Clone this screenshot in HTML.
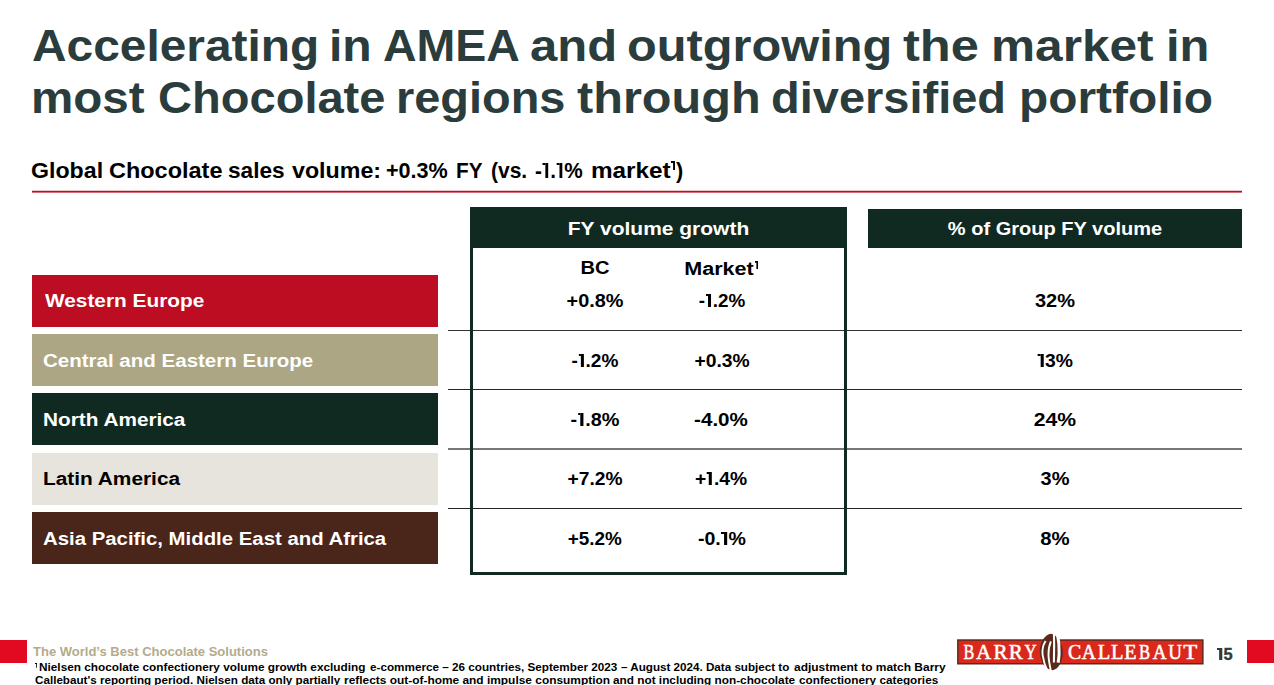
<!DOCTYPE html>
<html><head><meta charset="utf-8">
<style>
*{margin:0;padding:0;box-sizing:border-box}
html,body{width:1274px;height:685px;overflow:hidden;background:#fff}
body{position:relative;font-family:"Liberation Sans",sans-serif;font-weight:bold}
.t{position:absolute;white-space:nowrap;line-height:1}
.l{transform-origin:0 0}
.c{transform-origin:50% 0;text-align:center}
.title{color:#2b3c3d;font-size:44.2px}
.sub{color:#000;font-size:22px}
.box{position:absolute;left:32px;width:406px;height:51.6px}
.lab{font-size:18.9px;color:#fff}
.val{font-size:18.9px;color:#000}
.sup{font-size:60%;position:relative;top:-0.52em}
.one{display:inline-block;position:relative;width:0.40em;height:0.70em}
.one::before{content:"";position:absolute;left:0.16em;bottom:0;width:0.155em;height:100%;background:currentColor}
.one::after{content:"";position:absolute;left:0.03em;top:0;width:0.14em;height:0.12em;background:currentColor}
.hl{position:absolute;left:448px;width:794px;height:1px;background:#242424}
</style></head><body>


<svg style="position:absolute;left:0;top:185px" width="1274" height="12" viewBox="0 185 1274 12"><rect x="32" y="190.75" width="1210" height="1.85" fill="#bc1025"/></svg>

<!-- separators -->
<div class="hl" style="top:330px;background:#343434"></div>
<div class="hl" style="top:389px"></div>
<div class="hl" style="top:448px;height:2px;background:#777"></div>
<div class="hl" style="top:508px"></div>

<!-- frame -->
<div style="position:absolute;left:470px;top:207.3px;width:377px;height:367.6px;border:3px solid #112a21"></div>
<div style="position:absolute;left:470px;top:207.3px;width:377px;height:40.5px;background:#112a21"></div>
<div style="position:absolute;left:868px;top:209px;width:374px;height:39px;background:#112a21"></div>

<!-- label boxes -->
<div class="box" style="top:275.2px;background:#bc0d22"></div>
<div class="box" style="top:334.1px;background:#aca685"></div>
<div class="box" style="top:393.2px;background:#112a21"></div>
<div class="box" style="top:453.0px;background:#e7e4dd"></div>
<div class="box" style="top:512.1px;background:#4a251a"></div>


<!-- headers -->
<div class="t c" id="h1" style="left:470.00px;width:377px;top:220px;font-size:18.9px;color:#fff;transform:scaleX(1.1106)">FY volume growth</div>
<div class="t c" id="h2" style="left:867.65px;width:374px;top:220px;font-size:18.9px;color:#fff;transform:scaleX(1.0599)">% of Group FY volume</div>
<div class="t c val" id="bc" style="left:545.08px;width:100px;top:259px;transform:scaleX(1.0640)">BC</div>
<div class="t c val" id="mk" style="left:668.87px;width:100px;top:260px;transform:scaleX(1.1417)">Market</div>

<!-- labels -->
<div class="t l lab" id="l1" style="left:44.63px;top:292px;transform:scaleX(1.1021)">Western Europe</div>
<div class="t l lab" id="l2" style="left:42.64px;top:352px;transform:scaleX(1.0859)">Central and Eastern Europe</div>
<div class="t l lab" id="l3" style="left:43.21px;top:411px;transform:scaleX(1.1000)">North America</div>
<div class="t l lab" id="l4" style="left:43.21px;top:470px;color:#000;transform:scaleX(1.1033)">Latin America</div>
<div class="t l lab" id="l5" style="left:42.65px;top:530px;transform:scaleX(1.0777)">Asia Pacific, Middle East and Africa</div>

<!-- values -->
<div class="t c val" id="v11" style="left:544.83px;width:100px;top:292px;transform:scaleX(1.0509)">+0.8%</div>
<div class="t c val" id="v12" style="left:671.55px;width:100px;top:292px;transform:scaleX(0.9978)">-<span class="one"></span>.2%</div>
<div class="t c val" id="v13" style="left:1004.84px;width:100px;top:292px;transform:scaleX(1.0583)">32%</div>
<div class="t c val" id="v21" style="left:544.80px;width:100px;top:352px;transform:scaleX(1.0089)">-<span class="one"></span>.2%</div>
<div class="t c val" id="v22" style="left:672.15px;width:100px;top:352px;transform:scaleX(1.0208)">+0.3%</div>
<div class="t c val" id="v23" style="left:1004.90px;width:100px;top:352px;transform:scaleX(1.0235)"><span class="one"></span>3%</div>
<div class="t c val" id="v31" style="left:545.03px;width:100px;top:411px;transform:scaleX(1.0511)">-<span class="one"></span>.8%</div>
<div class="t c val" id="v32" style="left:671.31px;width:100px;top:411px;transform:scaleX(1.0896)">-4.0%</div>
<div class="t c val" id="v33" style="left:1004.54px;width:100px;top:411px;transform:scaleX(1.1194)">24%</div>
<div class="t c val" id="v41" style="left:544.94px;width:100px;top:470px;transform:scaleX(1.0170)">+7.2%</div>
<div class="t c val" id="v42" style="left:671.49px;width:100px;top:470px;transform:scaleX(1.0200)">+<span class="one"></span>.4%</div>
<div class="t c val" id="v43" style="left:1004.64px;width:100px;top:470px;transform:scaleX(1.0577)">3%</div>
<div class="t c val" id="v51" style="left:544.80px;width:100px;top:530px;transform:scaleX(1.0000)">+5.2%</div>
<div class="t c val" id="v52" style="left:671.90px;width:100px;top:530px;transform:scaleX(1.0356)">-0.<span class="one"></span>%</div>
<div class="t c val" id="v53" style="left:1004.89px;width:100px;top:530px;transform:scaleX(1.0769)">8%</div>

<!-- footer -->
<div style="position:absolute;left:0;top:640px;width:27px;height:23px;background:#e20a20"></div>
<div style="position:absolute;left:1247px;top:640px;width:27px;height:23px;background:#e20a20"></div>
<div class="t l" id="f0" style="left:32.60px;top:646px;font-size:12.9px;color:#b3ab8b;transform:scaleX(1.0094)">The World&#8217;s Best Chocolate Solutions</div>
<div class="t l" id="pg" style="left:1216.97px;top:647px;font-size:15.5px;color:#2b3c3d;-webkit-text-stroke:0.35px #2b3c3d;transform:scaleX(1.0600)"><span class="one" style="height:0.76em"></span><span style="display:inline-block;transform:scaleY(1.05);transform-origin:50% 86%">5</span></div>


<!-- ones -->
<svg style="position:absolute;left:670.8px;top:161.1px" width="4.6" height="9.4" viewBox="0 0 46 94"><path d="M0,0H46V94H21V19H0Z"/></svg>
<svg style="position:absolute;left:754.9px;top:261.2px" width="3.5" height="8.2" viewBox="0 0 35 82"><path d="M0,0H35V82H14V17H0Z"/></svg>
<svg style="position:absolute;left:34.6px;top:663.2px" width="2.6" height="4.7" viewBox="0 0 26 47"><path d="M0,0H26V47H12V10H0Z"/></svg>
<!-- /ones -->
<!-- logo -->
<svg style="position:absolute;left:950px;top:628px" width="260" height="47" viewBox="950 628 260 47">
<rect x="957.85" y="640.05" width="92" height="23.7" fill="#da291c" stroke="#5b2a1c" stroke-width="1.5"/>
<rect x="1055" y="640.05" width="147.85" height="23.7" fill="#da291c" stroke="#5b2a1c" stroke-width="1.5"/>
<path d="M1051,633.8 C1057,634.5 1062.8,643 1062.8,653 C1062.8,662 1058,669.2 1052.7,670.3 C1046,669.8 1039.8,662 1039.8,651.5 C1039.8,642 1045,634.5 1051,633.8 Z" fill="#5b2a1c"/>
<g fill="none" stroke="#fff" stroke-linecap="butt">
<path d="M1045.6,641 C1043,645 1042,650 1042.6,655 C1043.3,660 1045.2,666 1047.4,671" stroke-width="1.9"/>
<path d="M1050.9,641.3 C1049.3,645 1048.4,650 1048.5,655 C1048.7,661 1049.8,666 1050.9,671" stroke-width="1.9"/>
<path d="M1053.9,633 C1054.2,641 1054.2,649 1054,656 C1053.95,659 1053.9,661 1053.9,662.6" stroke-width="2.1"/>
<path d="M1057.3,633.4 C1059,641 1059.3,648 1059.1,654 C1058.9,658 1058.5,660.5 1058.1,662.6" stroke-width="3.0"/>
</g>
<g font-family="Liberation Serif" font-weight="normal" font-size="21.6" fill="#fff" stroke="#fff" stroke-width="0.55">
<text transform="translate(964.00 659.00) scale(0.746 1)" x="-0.62">B</text>
<text transform="translate(976.50 659.00) scale(0.952 1)" x="-0.21">A</text>
<text transform="translate(994.20 659.00) scale(0.974 1)" x="-0.62">R</text>
<text transform="translate(1009.40 659.00) scale(0.974 1)" x="-0.62">R</text>
<text transform="translate(1024.60 659.00) scale(0.777 1)" x="-0.24">Y</text>
<text transform="translate(1068.80 659.00) scale(0.917 1)" x="-0.89">C</text>
<text transform="translate(1082.00 659.00) scale(0.906 1)" x="-0.21">A</text>
<text transform="translate(1098.30 659.00) scale(0.949 1)" x="-0.62">L</text>
<text transform="translate(1111.50 659.00) scale(0.949 1)" x="-0.62">L</text>
<text transform="translate(1124.70 659.00) scale(0.931 1)" x="-0.62">E</text>
<text transform="translate(1139.40 659.00) scale(0.770 1)" x="-0.62">B</text>
<text transform="translate(1152.90 659.00) scale(0.886 1)" x="-0.21">A</text>
<text transform="translate(1168.60 659.00) scale(0.878 1)" x="-0.45">U</text>
<text transform="translate(1183.70 659.00) scale(1.061 1)" x="-0.39">T</text>
</g>
</svg>
<!-- tw1 -->
<div class="t l title" id="tw10" style="left:31.50px;top:24px;transform:scaleX(1.0828)">Accelerating</div>
<div class="t l title" id="tw11" style="left:328.74px;top:24px;transform:scaleX(1.0882)">in</div>
<div class="t l title" id="tw12" style="left:382.54px;top:24px;transform:scaleX(1.0523)">AMEA</div>
<div class="t l title" id="tw13" style="left:529.62px;top:24px;transform:scaleX(1.1095)">and</div>
<div class="t l title" id="tw14" style="left:627.00px;top:24px;transform:scaleX(1.1030)">outgrowing</div>
<div class="t l title" id="tw15" style="left:903.28px;top:24px;transform:scaleX(1.1453)">the</div>
<div class="t l title" id="tw16" style="left:990.91px;top:24px;transform:scaleX(1.1218)">market</div>
<div class="t l title" id="tw17" style="left:1165.52px;top:24px;transform:scaleX(1.1059)">in</div>
<!-- /tw1 -->
<!-- tw2 -->
<div class="t l title" id="tw20" style="left:31.15px;top:76px;transform:scaleX(1.0765)">most</div>
<div class="t l title" id="tw21" style="left:157.90px;top:76px;transform:scaleX(1.0649)">Chocolate</div>
<div class="t l title" id="tw22" style="left:396.20px;top:76px;transform:scaleX(1.0613)">regions</div>
<div class="t l title" id="tw23" style="left:576.53px;top:76px;transform:scaleX(1.1006)">through</div>
<div class="t l title" id="tw24" style="left:771.49px;top:76px;transform:scaleX(1.0636)">diversified</div>
<div class="t l title" id="tw25" style="left:1018.58px;top:76px;transform:scaleX(1.0834)">portfolio</div>
<!-- /tw2 -->

<!-- sw -->
<div class="t l sub" id="sw0" style="left:31.33px;top:160px;transform:scaleX(1.0530)">Global</div>
<div class="t l sub" id="sw1" style="left:108.76px;top:160px;transform:scaleX(1.0667)">Chocolate</div>
<div class="t l sub" id="sw2" style="left:227.97px;top:160px;transform:scaleX(1.0283)">sales</div>
<div class="t l sub" id="sw3" style="left:291.62px;top:160px;transform:scaleX(1.0554)">volume:</div>
<div class="t l sub" id="sw4" style="left:386.02px;top:160px;transform:scaleX(0.9806)">+0.3%</div>
<div class="t l sub" id="sw5" style="left:456.47px;top:160px;transform:scaleX(0.9423)">FY</div>
<div class="t l sub" id="sw6" style="left:491.05px;top:160px;transform:scaleX(0.9528)">(vs.</div>
<div class="t l sub" id="sw7" style="left:534.76px;top:160px;transform:scaleX(0.9420)">-<span class="one"></span>.<span class="one"></span>%</div>
<div class="t l sub" id="sw8" style="left:591.11px;top:160px;transform:scaleX(1.1042)">market</div>
<div class="t l sub" id="sw9" style="left:676.01px;top:160px;transform:scaleX(0.9833)">)</div>
<!-- /sw -->
<!-- fa -->
<div class="t l" id="fa0" style="left:39.48px;top:663px;font-size:10.3px;color:#000;transform:scaleX(1.1454)">Nielsen chocolate confectionery volume growth excluding</div>
<div class="t l" id="fa1" style="left:369.57px;top:663px;font-size:10.3px;color:#000;transform:scaleX(1.1369)">e-commerce &#8211; 26 countries, September 2023</div>
<div class="t l" id="fa2" style="left:621.07px;top:663px;font-size:10.3px;color:#000;transform:scaleX(1.1302)">&#8211; August 2024. Data subject to</div>
<div class="t l" id="fa3" style="left:793.95px;top:663px;font-size:10.3px;color:#000;transform:scaleX(1.1623)">adjustment to match Barry</div>
<!-- /fa -->
<!-- fb -->
<div class="t l" id="fb0" style="left:35.21px;top:676px;font-size:10.3px;color:#000;transform:scaleX(1.1322)">Callebaut's reporting period. Nielsen data only partially</div>
<div class="t l" id="fb1" style="left:344.27px;top:676px;font-size:10.3px;color:#000;transform:scaleX(1.1568)">reflects out-of-home and impulse consumption</div>
<div class="t l" id="fb2" style="left:612.73px;top:676px;font-size:10.3px;color:#000;transform:scaleX(1.1456)">and not including non-chocolate</div>
<div class="t l" id="fb3" style="left:798.88px;top:676px;font-size:10.3px;color:#000;transform:scaleX(1.1421)">confectionery categories</div>
<!-- /fb -->
</body></html>
